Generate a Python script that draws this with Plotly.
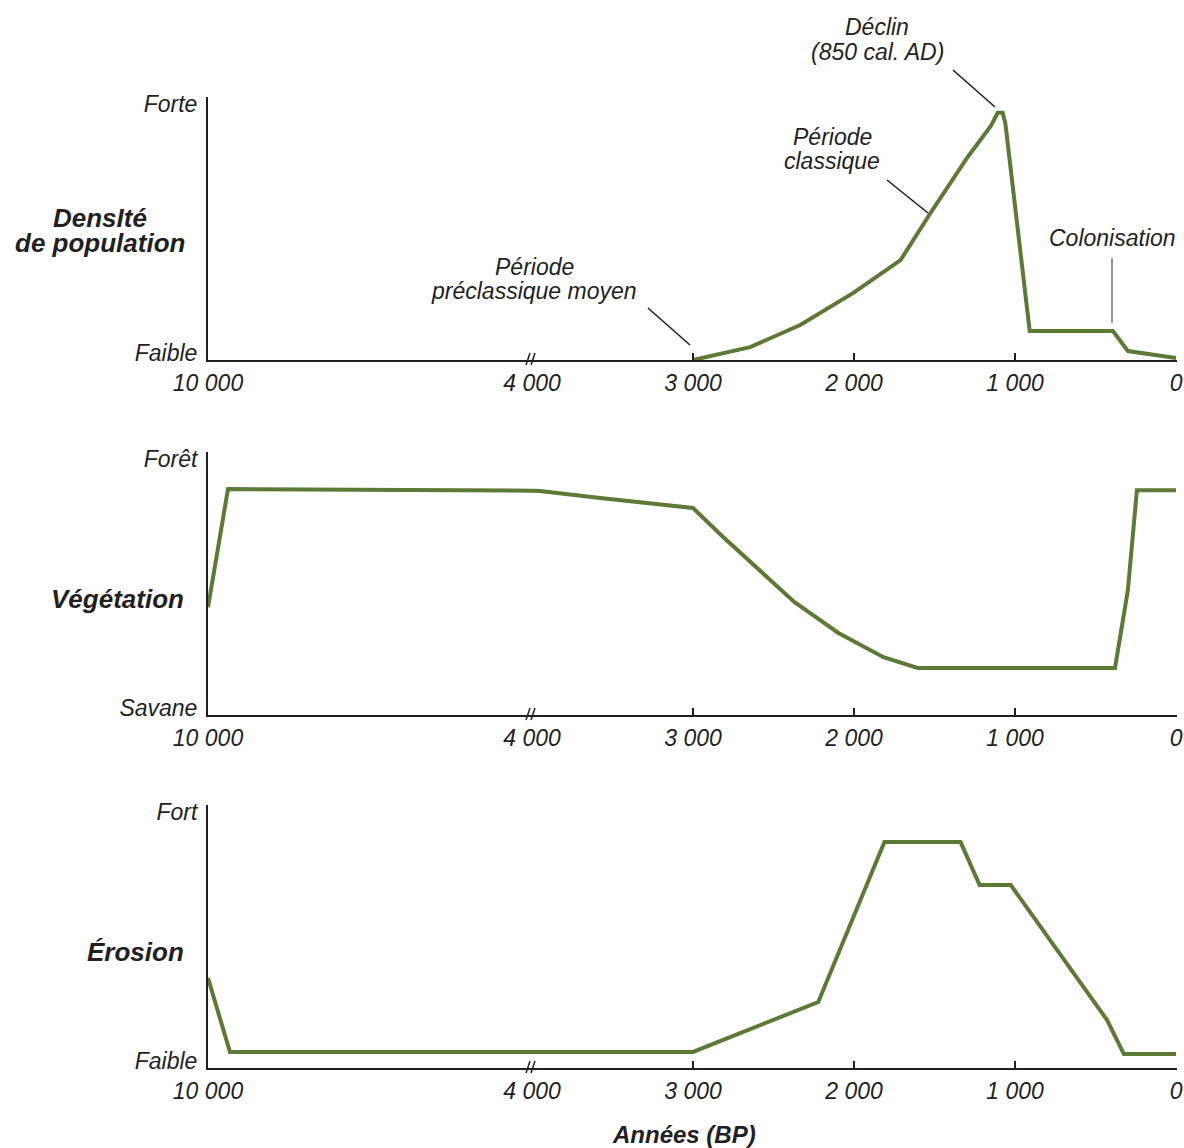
import plotly.graph_objects as go

W, H = 1184, 1148

# ---------------- data ----------------
x_tick_vals_left = [10000, 4000]
x_tick_text_left = ["10 000", "4 000"]
x_tick_vals_right = [3000, 2000, 1000, 0]
x_tick_text_right = ["3 000", "2 000", "1 000", "0"]

pop_years = [3000, 2645, 2334, 2004, 1711, 1525, 1294, 1150, 1108, 1077, 1060, 909, 392, 299, 0]
pop_vals = [0.0, 0.049, 0.133, 0.255, 0.38, 0.559, 0.772, 0.89, 0.94, 0.94, 0.90, 0.11, 0.11, 0.034, 0.008]

veg_years_left = [10000, 9630, 4000]
veg_vals_left = [0.41, 0.859, 0.853]
veg_years_right = [4000, 3950, 3577, 3000, 2813, 2607, 2371, 2097, 1817, 1605, 379, 299, 243, 0]
veg_vals_right = [0.853, 0.852, 0.825, 0.787, 0.677, 0.563, 0.43, 0.312, 0.22, 0.179, 0.179, 0.475, 0.855, 0.855]

ero_years_left = [10000, 9593, 4000]
ero_vals_left = [0.342, 0.061, 0.061]
ero_years_right = [4000, 3000, 2222, 1811, 1338, 1220, 1027, 429, 324, 0]
ero_vals_right = [0.061, 0.061, 0.251, 0.859, 0.859, 0.696, 0.696, 0.183, 0.053, 0.053]

panel_names = [["DensIté", "de population"], ["Végétation"], ["Érosion"]]
y_top_labels = ["Forte", "Forêt", "Fort"]
y_bot_labels = ["Faible", "Savane", "Faible"]

# ---------------- style ----------------
GREEN = "#5a7a35"
INK = "#231f20"
FONT = "Liberation Sans, Arial, sans-serif"
FS = 23
FSB = 26

X_L0, X_BRK, X_R1 = 208, 532, 1177
tops = [97, 452, 805]
bots = [360, 715, 1068]


def px(x):
    return x / W


def py(y):
    return 1 - y / H


fig = go.Figure()
layout = dict(
    template="none",
    width=W, height=H, margin=dict(l=0, r=0, t=0, b=0, autoexpand=False),
    paper_bgcolor="white", plot_bgcolor="white", showlegend=False,
)

shapes = []
annotations = []

for i in range(3):
    xl = "x" if i == 0 else f"x{2 * i + 1}"
    yn = "y" if i == 0 else f"y{i + 1}"
    xl_key = "xaxis" if i == 0 else f"xaxis{2 * i + 1}"
    xr_key = f"xaxis{2 * i + 2}"
    y_key = "yaxis" if i == 0 else f"yaxis{i + 1}"
    ydom = [py(bots[i]), py(tops[i])]

    common_x = dict(
        showgrid=False, zeroline=False, showline=True, linecolor=INK, linewidth=2,
        tickfont=dict(family=FONT, size=FS, color=INK, style="italic"),
        anchor=yn, fixedrange=True, ticklabelstandoff=1, automargin=False,
        ticklabeloverflow="allow",
    )
    layout[xl_key] = dict(common_x, domain=[px(X_L0), px(X_BRK)], range=[10000, 4000],
                          tickmode="array", tickvals=x_tick_vals_left, ticktext=x_tick_text_left,
                          ticks="")
    layout[xr_key] = dict(common_x, domain=[px(X_BRK), px(X_R1)], range=[4000, -6],
                          tickmode="array", tickvals=x_tick_vals_right, ticktext=x_tick_text_right,
                          ticks="inside", ticklen=7, tickwidth=2, tickcolor=INK)
    layout[y_key] = dict(
        domain=ydom, range=[0, 1], anchor=xl, showgrid=False, zeroline=False,
        showline=True, linecolor=INK, linewidth=2, ticks="", fixedrange=True, automargin=False,
        tickmode="array", tickvals=[0.027, 0.973], ticktext=[y_bot_labels[i], y_top_labels[i]],
        tickfont=dict(family=FONT, size=FS, color=INK, style="italic"),
        ticklabelstandoff=4,
    )

    # break marks "//" at 4000
    yb = bots[i]
    for dx in (-4, 1):
        shapes.append(dict(type="line", xref="paper", yref="paper",
                           x0=px(X_BRK + dx - 2), y0=py(yb + 5), x1=px(X_BRK + dx + 2), y1=py(yb - 7),
                           line=dict(color=INK, width=1.5)))

    # panel name (bold italic)
    names = panel_names[i]
    mid = (tops[i] + bots[i]) / 2
    if len(names) == 2:
        ys = [218, 243]
    else:
        ys = [mid + 15]
    for name, yy in zip(names, ys):
        annotations.append(dict(
            text=name, xref="paper", yref="paper", x=px(100 if len(names) == 2 else 186),
            y=py(yy), xanchor="center" if len(names) == 2 else "right", yanchor="middle",
            showarrow=False, font=dict(family=FONT, size=FSB, color=INK, weight="bold", style="italic"),
        ))

# traces
line = dict(color=GREEN, width=4)
fig.add_trace(go.Scatter(x=[], y=[], mode="lines", line=line, xaxis="x", yaxis="y", hoverinfo="skip"))
fig.add_trace(go.Scatter(x=pop_years, y=pop_vals, mode="lines", line=line, xaxis="x2", yaxis="y"))
fig.add_trace(go.Scatter(x=veg_years_left, y=veg_vals_left, mode="lines", line=line, xaxis="x3", yaxis="y2"))
fig.add_trace(go.Scatter(x=veg_years_right, y=veg_vals_right, mode="lines", line=line, xaxis="x4", yaxis="y2"))
fig.add_trace(go.Scatter(x=ero_years_left, y=ero_vals_left, mode="lines", line=line, xaxis="x5", yaxis="y3"))
fig.add_trace(go.Scatter(x=ero_years_right, y=ero_vals_right, mode="lines", line=line, xaxis="x6", yaxis="y3"))

# leader lines (pixel positions of the annotation pointers)
leaders = [
    (648, 308, 690, 345, 1.6, INK),
    (887, 180, 928, 213, 1.6, INK),
    (953, 70, 995, 107, 1.6, INK),
    (1112, 258, 1112, 323, 1.2, "#555555"),
]
for x0, y0, x1, y1, w, c in leaders:
    shapes.append(dict(type="line", xref="paper", yref="paper", x0=px(x0), y0=py(y0), x1=px(x1), y1=py(y1),
                       line=dict(color=c, width=w)))

# period annotations
notes = [
    ("Période", 534, 267), ("préclassique moyen", 534, 291),
    ("Période", 832, 137), ("classique", 832, 161),
    ("Déclin", 877, 27), ("(850 cal. AD)", 877, 52),
    ("Colonisation", 1112, 238),
]
for t, xx, yy in notes:
    annotations.append(dict(text=t, xref="paper", yref="paper", x=px(xx), y=py(yy),
                            xanchor="center", yanchor="middle", showarrow=False,
                            font=dict(family=FONT, size=FS, color=INK, style="italic")))

annotations.append(dict(text="Années (BP)", xref="paper", yref="paper", x=px(684), y=py(1134),
                        xanchor="center", yanchor="middle", showarrow=False,
                        font=dict(family=FONT, size=24, color=INK, weight="bold", style="italic")))

layout["shapes"] = shapes
layout["annotations"] = annotations
fig.update_layout(**layout)
# remove the default 8px page margin so the figure fills the 1184x1148 window
fig.write_html("out.html", config={"displayModeBar": False},
               post_script="document.body.style.margin='0px';")
